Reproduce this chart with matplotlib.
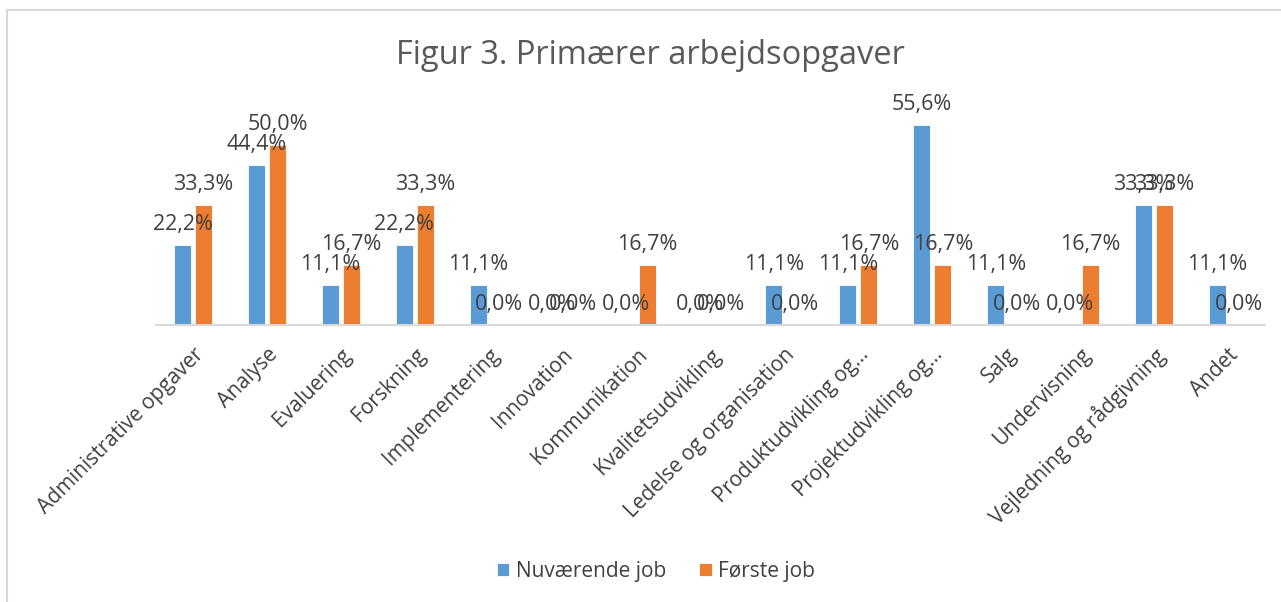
import numpy as np
import matplotlib
matplotlib.use("Agg")
from matplotlib import pyplot as plt
from matplotlib.patches import Rectangle

plt.rcParams["font.family"] = ["Open Sans", "DejaVu Sans"]

title = "Figur 3. Primærer arbejdsopgaver"
categories = ["Administrative opgaver", "Analyse", "Evaluering", "Forskning",
              "Implementering", "Innovation", "Kommunikation", "Kvalitetsudvikling",
              "Ledelse og organisation", "Produktudvikling og…", "Projektudvikling og…",
              "Salg", "Undervisning", "Vejledning og rådgivning", "Andet"]
series_names = ["Nuværende job", "Første job"]
nuvaerende = [22.2, 44.4, 11.1, 22.2, 11.1, 0.0, 0.0, 0.0, 11.1, 11.1, 55.6, 11.1, 0.0, 33.3, 11.1]
forste = [33.3, 50.0, 16.7, 33.3, 0.0, 0.0, 16.7, 0.0, 0.0, 16.7, 16.7, 0.0, 16.7, 33.3, 0.0]
colors = ["#5B9BD5", "#ED7D31"]

fig = plt.figure(figsize=(12.81, 6.02), dpi=100)
# light chart border
fig.patches.append(Rectangle((7 / 1281, -0.1), 1.1, (592 / 602) + 0.1,
                             transform=fig.transFigure, fill=False,
                             edgecolor="#D9D9D9", linewidth=1.5))

ax = fig.add_axes([156 / 1281, 1 - 325 / 602, 1109 / 1281, 216 / 602])
x = np.arange(len(categories))
width = 0.23
offset = 0.142
text_color = "#404040"
for vals, col, name, sign in [(nuvaerende, colors[0], series_names[0], -1),
                              (forste, colors[1], series_names[1], 1)]:
    bars = ax.bar(x + sign * offset, vals, width=width, color=col, label=name,
                  edgecolor="white", linewidth=0.6)
    for rect, v in zip(bars, vals):
        ax.annotate("{:.1f}%".format(v).replace(".", ","),
                    (rect.get_x() + rect.get_width() / 2, v),
                    xytext=(0, 7), textcoords="offset points",
                    ha="center", va="bottom", fontsize=15.5, color=text_color)

ax.set_xlim(-0.5, len(categories) - 0.5)
ax.set_ylim(0, 60)
ax.set_yticks([])
for s in ["top", "right", "left"]:
    ax.spines[s].set_visible(False)
ax.spines["bottom"].set_color("#D9D9D9")
ax.spines["bottom"].set_linewidth(1.5)
ax.set_xticks(x)
ax.set_xticklabels(categories, rotation=45, ha="right", rotation_mode="anchor",
                   fontsize=15, color=text_color)
ax.tick_params(axis="x", length=0, pad=14)

fig.text(0.508, 1 - 56 / 602, title, ha="center", va="center",
         fontsize=23.5, color="#595959")

fig.legend(loc="center", bbox_to_anchor=(0.512, 1 - 571 / 602), ncol=2,
           frameon=False, fontsize=15, labelcolor=text_color,
           handlelength=0.6, handleheight=0.6, handletextpad=0.3,
           columnspacing=1.6)

fig.savefig("out.png", dpi=100)
